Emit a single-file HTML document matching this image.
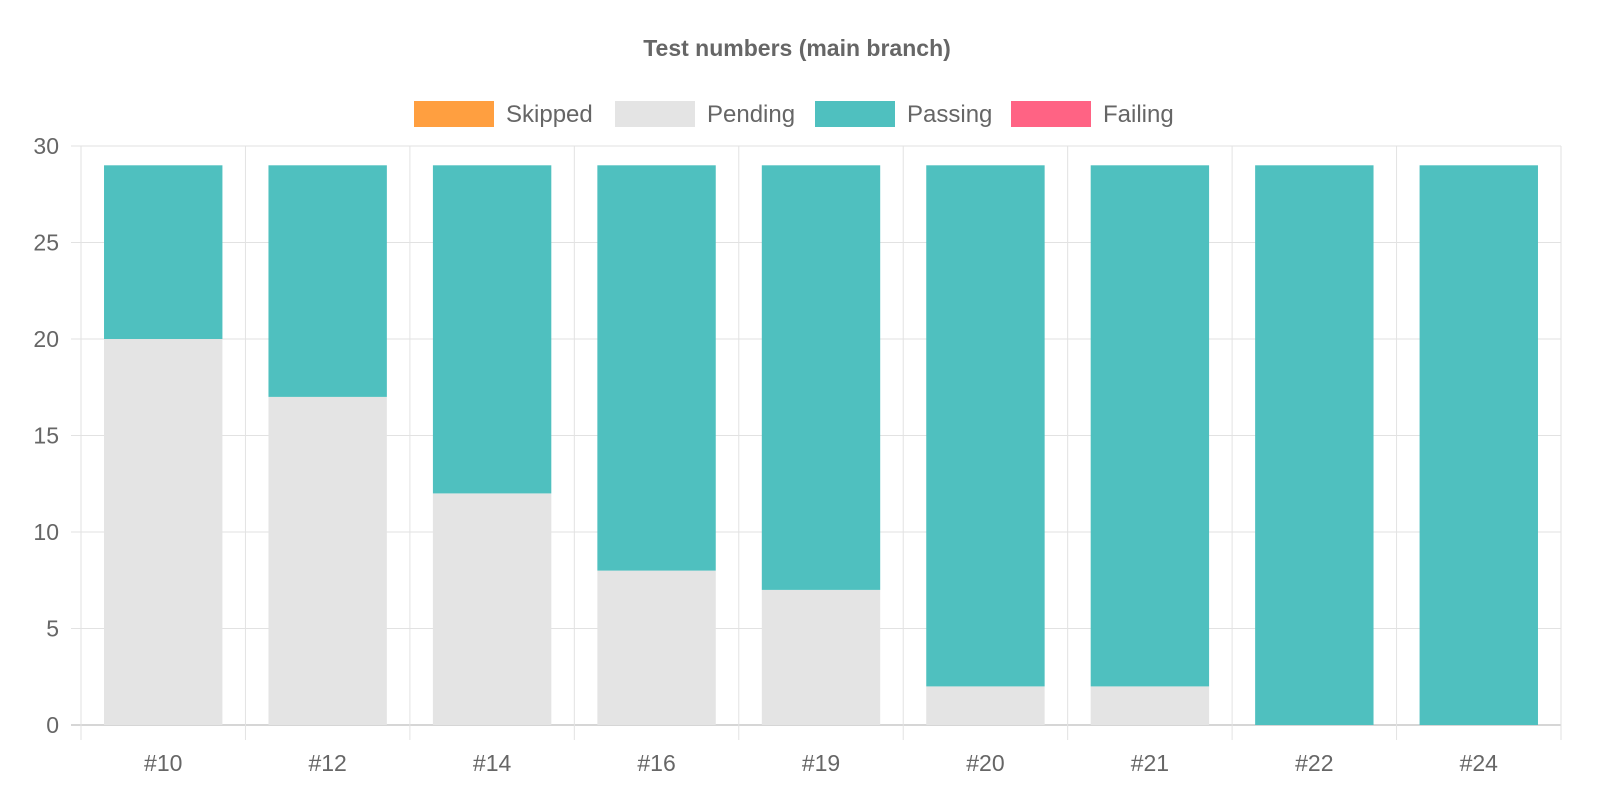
<!DOCTYPE html>
<html><head><meta charset="utf-8"><style>
html,body{margin:0;padding:0;background:#fff;}
svg{display:block;font-family:"Liberation Sans",Arial,sans-serif;}
</style></head><body>
<svg id="chart" width="1624" height="796" viewBox="0 0 1624 796">
<text x="797" y="56" text-anchor="middle" font-size="23" font-weight="bold" fill="#666">Test numbers (main branch)</text>
<g id="legend"></g>
<g id="grid"></g>
<g id="bars"></g>
<g id="axes"></g>
</svg>
<script>
const categories = ["#10","#12","#14","#16","#19","#20","#21","#22","#24"];
const skipped = [0,0,0,0,0,0,0,0,0];
const pending = [20,17,12,8,7,2,2,0,0];
const passing = [9,12,17,21,22,27,27,29,29];
const failing = [0,0,0,0,0,0,0,0,0];
const yTicks = [0,5,10,15,20,25,30];
const seriesNames = ["Skipped","Pending","Passing","Failing"];

const NS = "http://www.w3.org/2000/svg";
const L = 81, R = 1561, T = 146, B = 725, yMax = 30;
const cw = (R - L) / categories.length, bw = cw * 0.72;
const y = v => B - (v / yMax) * (B - T);
const xc = i => L + cw * (i + 0.5);
function mk(tag, attrs, parent) {
  const e = document.createElementNS(NS, tag);
  for (const k in attrs) e.setAttribute(k, attrs[k]);
  parent.appendChild(e);
  return e;
}
const colors = {Skipped:"#ff9f40", Pending:"#e4e4e4", Passing:"#4fc0bf", Failing:"#ff6384"};
const grid = document.getElementById("grid");
const axes = document.getElementById("axes");
const bars = document.getElementById("bars");
const legend = document.getElementById("legend");

yTicks.forEach(t => {
  const ln = mk("line", {x1: L - 10, x2: R, y1: y(t), y2: y(t), stroke: t === 0 ? "#c8c8c8" : "#e2e2e2", "stroke-width": t === 0 ? 1.5 : 1}, grid);
  
  
  const tx = mk("text", {x: L - 22, y: y(t) + 8, "text-anchor": "end", "font-size": "23", fill: "#666"}, axes);
  tx.textContent = t;
  
  
});
for (let i = 0; i <= categories.length; i++) {
  const x = L + cw * i;
  const ln = mk("line", {x1: x, x2: x, y1: T, y2: B + 15, stroke: "#e2e2e2", "stroke-width": 1}, grid);
  
  
}
categories.forEach((c, i) => {
  const tx = mk("text", {x: xc(i), y: 771, "text-anchor": "middle", "font-size": "23", fill: "#666"}, axes);
  tx.textContent = c;
  
  
  let base = 0;
  [["Skipped", skipped], ["Pending", pending], ["Passing", passing], ["Failing", failing]].forEach(([n, arr]) => {
    const v = arr[i];
    if (v > 0) {
      const r = mk("rect", {x: xc(i) - bw / 2, y: y(base + v), width: bw, height: y(base) - y(base + v), fill: colors[n]}, bars);
      
      
    }
    base += v;
  });
});
const legendX = [414, 615, 815, 1011];
seriesNames.forEach((n, i) => {
  const r = mk("rect", {x: legendX[i], y: 101, width: 80, height: 26, fill: colors[n]}, legend);
  
  
  const t = mk("text", {x: legendX[i] + 92, y: 122, "font-size": "24", fill: "#666"}, legend);
  t.textContent = n;
  
  
});
</script>
</body></html>
